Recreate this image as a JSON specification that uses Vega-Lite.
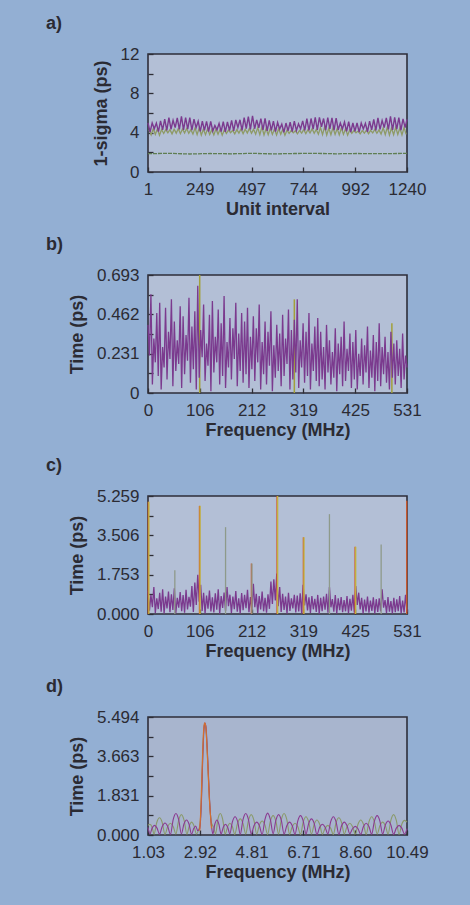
{
"$schema": "https://vega.github.io/schema/vega-lite/v6.json",
"background": "#93afd3",
"padding": {"left": 45, "top": 14, "right": 45, "bottom": 30},
"spacing": 16,
"config": {
  "font": "Liberation Sans",
  "view": {"fill": "#b3bfd6", "stroke": "#2e2e3a", "strokeWidth": 1.6},
  "axis": {"grid": false, "domain": false, "tickColor": "#2e2e36", "tickSize": -5, "tickWidth": 1.3, "labelFont": "Liberation Sans", "labelFontSize": 17, "labelColor": "#2b2b33", "titleFont": "Liberation Sans", "titleFontSize": 18, "titleFontWeight": "bold", "titleColor": "#2b2b33", "labelFlush": false, "labelOverlap": false},
  "axisX": {"labelPadding": 14, "titlePadding": 3},
  "axisY": {"labelPadding": 14, "titlePadding": 10},
  "title": {"anchor": "start", "frame": "group", "dx": -102, "offset": 12, "fontSize": 18, "fontWeight": "bold", "color": "#2b2b33", "font": "Liberation Sans"}
},
"datasets": {
"a_p": [{"x":1,"y":5.00},{"x":11,"y":4.07},{"x":21,"y":4.99},{"x":31,"y":4.39},{"x":41,"y":4.97},{"x":51,"y":4.10},{"x":61,"y":5.20},{"x":71,"y":4.29},{"x":81,"y":5.37},{"x":91,"y":4.24},
{"x":101,"y":5.54},{"x":111,"y":4.35},{"x":121,"y":5.25},{"x":131,"y":4.51},{"x":141,"y":5.51},{"x":151,"y":4.34},{"x":161,"y":5.66},{"x":171,"y":4.29},{"x":181,"y":5.54},{"x":191,"y":4.36},
{"x":201,"y":5.52},{"x":211,"y":4.25},{"x":221,"y":5.37},{"x":231,"y":4.51},{"x":241,"y":5.17},{"x":251,"y":4.13},{"x":261,"y":5.18},{"x":271,"y":4.24},{"x":281,"y":5.15},{"x":291,"y":4.12},
{"x":301,"y":5.14},{"x":311,"y":4.17},{"x":321,"y":4.73},{"x":331,"y":4.29},{"x":341,"y":4.94},{"x":351,"y":4.11},{"x":361,"y":5.12},{"x":371,"y":4.09},{"x":381,"y":5.10},{"x":391,"y":4.22},
{"x":401,"y":5.24},{"x":411,"y":4.18},{"x":421,"y":5.30},{"x":431,"y":4.52},{"x":441,"y":5.31},{"x":451,"y":4.23},{"x":461,"y":5.52},{"x":471,"y":4.41},{"x":481,"y":5.63},{"x":491,"y":4.33},
{"x":501,"y":5.70},{"x":511,"y":4.40},{"x":521,"y":5.29},{"x":531,"y":4.50},{"x":541,"y":5.43},{"x":551,"y":4.28},{"x":561,"y":5.46},{"x":571,"y":4.19},{"x":581,"y":5.25},{"x":591,"y":4.23},
{"x":601,"y":5.18},{"x":611,"y":4.11},{"x":621,"y":5.04},{"x":631,"y":4.38},{"x":641,"y":4.87},{"x":651,"y":4.03},{"x":661,"y":4.98},{"x":671,"y":4.18},{"x":681,"y":5.06},{"x":691,"y":4.11},
{"x":701,"y":5.18},{"x":711,"y":4.21},{"x":721,"y":4.89},{"x":731,"y":4.38},{"x":741,"y":5.20},{"x":751,"y":4.23},{"x":761,"y":5.44},{"x":771,"y":4.22},{"x":781,"y":5.44},{"x":791,"y":4.35},
{"x":801,"y":5.56},{"x":811,"y":4.29},{"x":821,"y":5.55},{"x":831,"y":4.60},{"x":841,"y":5.44},{"x":851,"y":4.26},{"x":861,"y":5.53},{"x":871,"y":4.39},{"x":881,"y":5.51},{"x":891,"y":4.26},
{"x":901,"y":5.47},{"x":911,"y":4.29},{"x":921,"y":4.99},{"x":931,"y":4.37},{"x":941,"y":5.08},{"x":951,"y":4.14},{"x":961,"y":5.13},{"x":971,"y":4.06},{"x":981,"y":4.98},{"x":991,"y":4.14},
{"x":1001,"y":5.00},{"x":1011,"y":4.06},{"x":1021,"y":4.98},{"x":1031,"y":4.38},{"x":1041,"y":4.94},{"x":1051,"y":4.09},{"x":1061,"y":5.17},{"x":1071,"y":4.28},{"x":1081,"y":5.34},{"x":1091,"y":4.23},
{"x":1101,"y":5.51},{"x":1111,"y":4.34},{"x":1121,"y":5.23},{"x":1131,"y":4.51},{"x":1141,"y":5.50},{"x":1151,"y":4.34},{"x":1161,"y":5.66},{"x":1171,"y":4.29},{"x":1181,"y":5.55},{"x":1191,"y":4.37},
{"x":1201,"y":5.53},{"x":1211,"y":4.26},{"x":1221,"y":5.40},{"x":1231,"y":4.52},{"x":1240,"y":5.35}],
"a_g": [{"x":6,"y":4.30},{"x":16,"y":3.77},{"x":26,"y":4.38},{"x":36,"y":3.83},{"x":46,"y":4.38},{"x":56,"y":3.74},{"x":66,"y":4.32},{"x":76,"y":3.92},{"x":86,"y":4.31},{"x":96,"y":3.99},
{"x":106,"y":4.31},{"x":116,"y":3.88},{"x":126,"y":4.36},{"x":136,"y":3.95},{"x":146,"y":4.41},{"x":156,"y":3.90},{"x":166,"y":4.37},{"x":176,"y":3.97},{"x":186,"y":4.42},{"x":196,"y":3.94},
{"x":206,"y":4.31},{"x":216,"y":3.85},{"x":226,"y":4.46},{"x":236,"y":3.80},{"x":246,"y":4.50},{"x":256,"y":3.76},{"x":266,"y":4.35},{"x":276,"y":3.79},{"x":286,"y":4.39},{"x":296,"y":3.82},
{"x":306,"y":4.31},{"x":316,"y":3.77},{"x":326,"y":4.37},{"x":336,"y":3.83},{"x":346,"y":4.34},{"x":356,"y":3.74},{"x":366,"y":4.27},{"x":376,"y":3.92},{"x":386,"y":4.25},{"x":396,"y":3.99},
{"x":406,"y":4.24},{"x":416,"y":3.88},{"x":426,"y":4.31},{"x":436,"y":3.95},{"x":446,"y":4.37},{"x":456,"y":3.90},{"x":466,"y":4.35},{"x":476,"y":3.97},{"x":486,"y":4.43},{"x":496,"y":3.94},
{"x":506,"y":4.34},{"x":516,"y":3.85},{"x":526,"y":4.51},{"x":536,"y":3.80},{"x":546,"y":4.56},{"x":556,"y":3.76},{"x":566,"y":4.41},{"x":576,"y":3.79},{"x":586,"y":4.45},{"x":596,"y":3.82},
{"x":606,"y":4.36},{"x":616,"y":3.77},{"x":626,"y":4.40},{"x":636,"y":3.83},{"x":646,"y":4.35},{"x":656,"y":3.74},{"x":666,"y":4.25},{"x":676,"y":3.92},{"x":686,"y":4.21},{"x":696,"y":3.99},
{"x":706,"y":4.19},{"x":716,"y":3.88},{"x":726,"y":4.24},{"x":736,"y":3.95},{"x":746,"y":4.31},{"x":756,"y":3.90},{"x":766,"y":4.30},{"x":776,"y":3.97},{"x":786,"y":4.39},{"x":796,"y":3.94},
{"x":806,"y":4.33},{"x":816,"y":3.85},{"x":826,"y":4.52},{"x":836,"y":3.80},{"x":846,"y":4.59},{"x":856,"y":3.76},{"x":866,"y":4.46},{"x":876,"y":3.79},{"x":886,"y":4.51},{"x":896,"y":3.82},
{"x":906,"y":4.42},{"x":916,"y":3.77},{"x":926,"y":4.46},{"x":936,"y":3.83},{"x":946,"y":4.39},{"x":956,"y":3.74},{"x":966,"y":4.27},{"x":976,"y":3.92},{"x":986,"y":4.21},{"x":996,"y":3.99},
{"x":1006,"y":4.16},{"x":1016,"y":3.88},{"x":1026,"y":4.20},{"x":1036,"y":3.95},{"x":1046,"y":4.25},{"x":1056,"y":3.90},{"x":1066,"y":4.23},{"x":1076,"y":3.97},{"x":1086,"y":4.33},{"x":1096,"y":3.94},
{"x":1106,"y":4.28},{"x":1116,"y":3.85},{"x":1126,"y":4.49},{"x":1136,"y":3.80},{"x":1146,"y":4.58},{"x":1156,"y":3.76},{"x":1166,"y":4.48},{"x":1176,"y":3.79},{"x":1186,"y":4.55},{"x":1196,"y":3.82},
{"x":1206,"y":4.48},{"x":1216,"y":3.77},{"x":1226,"y":4.52},{"x":1236,"y":3.83}],
"a_f": [{"x":1,"y":1.86},{"x":100,"y":1.9},{"x":200,"y":1.83},{"x":300,"y":1.88},{"x":400,"y":1.85},{"x":500,"y":1.9},{"x":600,"y":1.84},{"x":700,"y":1.88},{"x":800,"y":1.9},{"x":900,"y":1.85},{"x":1000,"y":1.88},{"x":1100,"y":1.86},{"x":1240,"y":1.89}],
"b_p": [{"x":0,"y":0.40},{"x":3,"y":0.22},{"x":6,"y":0.58},{"x":9,"y":0.05},{"x":12,"y":0.32},{"x":15,"y":0.18},{"x":18,"y":0.47},{"x":21,"y":0.10},{"x":24,"y":0.53},{"x":27,"y":0.02},
{"x":30,"y":0.27},{"x":33,"y":0.15},{"x":36,"y":0.50},{"x":39,"y":0.08},{"x":42,"y":0.36},{"x":45,"y":0.20},{"x":48,"y":0.55},{"x":51,"y":0.04},{"x":54,"y":0.42},{"x":57,"y":0.13},
{"x":60,"y":0.31},{"x":63,"y":0.17},{"x":66,"y":0.51},{"x":69,"y":0.03},{"x":72,"y":0.45},{"x":75,"y":0.11},{"x":78,"y":0.34},{"x":81,"y":0.19},{"x":84,"y":0.56},{"x":87,"y":0.06},
{"x":90,"y":0.39},{"x":93,"y":0.14},{"x":96,"y":0.48},{"x":99,"y":0.02},{"x":102,"y":0.63},{"x":105,"y":0.09},{"x":108,"y":0.37},{"x":111,"y":0.21},{"x":114,"y":0.52},{"x":117,"y":0.07},
{"x":120,"y":0.29},{"x":123,"y":0.16},{"x":126,"y":0.46},{"x":129,"y":0.01},{"x":132,"y":0.54},{"x":135,"y":0.12},{"x":138,"y":0.33},{"x":141,"y":0.18},{"x":144,"y":0.49},{"x":147,"y":0.05},
{"x":150,"y":0.41},{"x":153,"y":0.10},{"x":156,"y":0.57},{"x":159,"y":0.03},{"x":162,"y":0.30},{"x":165,"y":0.15},{"x":168,"y":0.44},{"x":171,"y":0.08},{"x":174,"y":0.38},{"x":177,"y":0.20},
{"x":180,"y":0.53},{"x":183,"y":0.04},{"x":186,"y":0.35},{"x":189,"y":0.13},{"x":192,"y":0.47},{"x":195,"y":0.06},{"x":198,"y":0.42},{"x":201,"y":0.11},{"x":204,"y":0.50},{"x":207,"y":0.03},
{"x":210,"y":0.33},{"x":213,"y":0.14},{"x":216,"y":0.45},{"x":219,"y":0.07},{"x":222,"y":0.38},{"x":225,"y":0.18},{"x":228,"y":0.52},{"x":231,"y":0.02},{"x":234,"y":0.30},{"x":237,"y":0.11},
{"x":240,"y":0.42},{"x":243,"y":0.05},{"x":246,"y":0.36},{"x":249,"y":0.16},{"x":252,"y":0.48},{"x":255,"y":0.01},{"x":258,"y":0.28},{"x":261,"y":0.09},{"x":264,"y":0.40},{"x":267,"y":0.13},
{"x":270,"y":0.35},{"x":273,"y":0.04},{"x":276,"y":0.46},{"x":279,"y":0.10},{"x":282,"y":0.32},{"x":285,"y":0.17},{"x":288,"y":0.49},{"x":291,"y":0.02},{"x":294,"y":0.37},{"x":297,"y":0.08},
{"x":300,"y":0.43},{"x":303,"y":0.12},{"x":306,"y":0.55},{"x":309,"y":0.03},{"x":312,"y":0.31},{"x":315,"y":0.15},{"x":318,"y":0.41},{"x":321,"y":0.06},{"x":324,"y":0.36},{"x":327,"y":0.10},
{"x":330,"y":0.47},{"x":333,"y":0.02},{"x":336,"y":0.29},{"x":339,"y":0.13},{"x":342,"y":0.39},{"x":345,"y":0.07},{"x":348,"y":0.44},{"x":351,"y":0.04},{"x":354,"y":0.36},{"x":357,"y":0.08},
{"x":360,"y":0.27},{"x":363,"y":0.02},{"x":366,"y":0.40},{"x":369,"y":0.12},{"x":372,"y":0.31},{"x":375,"y":0.05},{"x":378,"y":0.24},{"x":381,"y":0.09},{"x":384,"y":0.38},{"x":387,"y":0.01},
{"x":390,"y":0.29},{"x":393,"y":0.11},{"x":396,"y":0.33},{"x":399,"y":0.04},{"x":402,"y":0.42},{"x":405,"y":0.07},{"x":408,"y":0.26},{"x":411,"y":0.13},{"x":414,"y":0.35},{"x":417,"y":0.03},
{"x":420,"y":0.30},{"x":423,"y":0.08},{"x":426,"y":0.37},{"x":429,"y":0.02},{"x":432,"y":0.23},{"x":435,"y":0.10},{"x":438,"y":0.32},{"x":441,"y":0.05},{"x":444,"y":0.28},{"x":447,"y":0.12},
{"x":450,"y":0.39},{"x":453,"y":0.03},{"x":456,"y":0.25},{"x":459,"y":0.09},{"x":462,"y":0.34},{"x":465,"y":0.01},{"x":468,"y":0.30},{"x":471,"y":0.07},{"x":474,"y":0.41},{"x":477,"y":0.04},
{"x":480,"y":0.27},{"x":483,"y":0.11},{"x":486,"y":0.33},{"x":489,"y":0.06},{"x":492,"y":0.24},{"x":495,"y":0.02},{"x":498,"y":0.36},{"x":501,"y":0.09},{"x":504,"y":0.29},{"x":507,"y":0.05},
{"x":510,"y":0.31},{"x":513,"y":0.10},{"x":516,"y":0.26},{"x":519,"y":0.03},{"x":522,"y":0.35},{"x":525,"y":0.08},{"x":528,"y":0.22},{"x":531,"y":0.15}],
"b_s": [{"x":106,"y":0.693},{"x":300,"y":0.55},{"x":500,"y":0.41}],
"c_p": [{"x":0,"y":1.05},{"x":3,"y":0.15},{"x":6,"y":0.85},{"x":9,"y":0.30},{"x":12,"y":1.20},{"x":15,"y":0.05},{"x":18,"y":0.70},{"x":21,"y":0.22},{"x":24,"y":0.95},{"x":27,"y":0.10},
{"x":30,"y":1.10},{"x":33,"y":0.02},{"x":36,"y":0.78},{"x":39,"y":0.25},{"x":42,"y":1.00},{"x":45,"y":0.08},{"x":48,"y":0.88},{"x":51,"y":0.18},{"x":54,"y":1.15},{"x":57,"y":0.04},
{"x":60,"y":0.72},{"x":63,"y":0.28},{"x":66,"y":0.98},{"x":69,"y":0.12},{"x":72,"y":0.84},{"x":75,"y":0.06},{"x":78,"y":1.08},{"x":81,"y":0.20},{"x":84,"y":0.76},{"x":87,"y":0.33},
{"x":90,"y":1.25},{"x":93,"y":0.09},{"x":96,"y":1.40},{"x":99,"y":0.40},{"x":102,"y":1.75},{"x":105,"y":0.55},{"x":108,"y":1.30},{"x":111,"y":0.14},{"x":114,"y":0.95},{"x":117,"y":0.03},
{"x":120,"y":0.82},{"x":123,"y":0.24},{"x":126,"y":1.05},{"x":129,"y":0.11},{"x":132,"y":0.74},{"x":135,"y":0.07},{"x":138,"y":0.92},{"x":141,"y":0.19},{"x":144,"y":1.10},{"x":147,"y":0.01},
{"x":150,"y":0.80},{"x":153,"y":0.27},{"x":156,"y":0.96},{"x":159,"y":0.13},{"x":162,"y":1.20},{"x":165,"y":0.35},{"x":168,"y":0.86},{"x":171,"y":0.05},{"x":174,"y":0.78},{"x":177,"y":0.21},
{"x":180,"y":1.02},{"x":183,"y":0.10},{"x":186,"y":0.70},{"x":189,"y":0.02},{"x":192,"y":0.93},{"x":195,"y":0.17},{"x":198,"y":0.85},{"x":201,"y":0.26},{"x":204,"y":1.08},{"x":207,"y":0.08},
{"x":210,"y":0.76},{"x":213,"y":0.15},{"x":216,"y":1.35},{"x":219,"y":0.30},{"x":222,"y":0.90},{"x":225,"y":0.04},{"x":228,"y":0.80},{"x":231,"y":0.20},{"x":234,"y":1.00},{"x":237,"y":0.12},
{"x":240,"y":0.72},{"x":243,"y":0.06},{"x":246,"y":0.88},{"x":249,"y":0.23},{"x":252,"y":1.45},{"x":255,"y":0.45},{"x":258,"y":1.55},{"x":261,"y":0.60},{"x":264,"y":1.80},{"x":267,"y":0.35},
{"x":270,"y":1.20},{"x":273,"y":0.09},{"x":276,"y":0.90},{"x":279,"y":0.18},{"x":282,"y":0.78},{"x":285,"y":0.02},{"x":288,"y":0.95},{"x":291,"y":0.14},{"x":294,"y":0.70},{"x":297,"y":0.25},
{"x":300,"y":0.86},{"x":303,"y":0.07},{"x":306,"y":0.82},{"x":309,"y":0.11},{"x":312,"y":0.92},{"x":315,"y":0.03},{"x":318,"y":1.30},{"x":321,"y":0.38},{"x":324,"y":0.88},{"x":327,"y":0.16},
{"x":330,"y":0.74},{"x":333,"y":0.05},{"x":336,"y":0.80},{"x":339,"y":0.21},{"x":342,"y":0.68},{"x":345,"y":0.09},{"x":348,"y":0.85},{"x":351,"y":0.01},{"x":354,"y":0.72},{"x":357,"y":0.13},
{"x":360,"y":0.78},{"x":363,"y":0.19},{"x":366,"y":0.90},{"x":369,"y":0.06},{"x":372,"y":1.20},{"x":375,"y":0.30},{"x":378,"y":0.66},{"x":381,"y":0.10},{"x":384,"y":0.84},{"x":387,"y":0.02},
{"x":390,"y":0.70},{"x":393,"y":0.17},{"x":396,"y":0.76},{"x":399,"y":0.08},{"x":402,"y":0.62},{"x":405,"y":0.12},{"x":408,"y":0.80},{"x":411,"y":0.04},{"x":414,"y":0.68},{"x":417,"y":0.15},
{"x":420,"y":0.85},{"x":423,"y":0.07},{"x":426,"y":1.25},{"x":429,"y":0.40},{"x":432,"y":0.95},{"x":435,"y":0.20},{"x":438,"y":0.72},{"x":441,"y":0.03},{"x":444,"y":0.64},{"x":447,"y":0.11},
{"x":450,"y":0.78},{"x":453,"y":0.06},{"x":456,"y":0.60},{"x":459,"y":0.14},{"x":462,"y":0.74},{"x":465,"y":0.02},{"x":468,"y":0.66},{"x":471,"y":0.09},{"x":474,"y":0.70},{"x":477,"y":0.12},
{"x":480,"y":1.10},{"x":483,"y":0.28},{"x":486,"y":0.62},{"x":489,"y":0.05},{"x":492,"y":0.76},{"x":495,"y":0.10},{"x":498,"y":0.58},{"x":501,"y":0.03},{"x":504,"y":0.72},{"x":507,"y":0.08},
{"x":510,"y":0.65},{"x":513,"y":0.13},{"x":516,"y":0.80},{"x":519,"y":0.02},{"x":522,"y":0.60},{"x":525,"y":0.07},{"x":528,"y":0.85},{"x":531,"y":0.10}],
"c_s": [{"x":0.5,"y":5.0,"c":"r"},{"x":1.8,"y":5.0,"c":"y"},{"x":55,"y":1.95,"c":"g"},{"x":105.5,"y":4.82,"c":"r"},{"x":106.8,"y":4.82,"c":"y"},{"x":159,"y":3.87,"c":"g"},{"x":212,"y":2.25,"c":"r"},{"x":213.2,"y":2.25,"c":"g"},{"x":264.5,"y":5.259,"c":"r"},{"x":265.8,"y":5.259,"c":"y"},{"x":318.5,"y":3.42,"c":"r"},{"x":319.8,"y":3.42,"c":"y"},{"x":372,"y":4.45,"c":"g"},{"x":424.5,"y":3.0,"c":"r"},{"x":425.8,"y":3.0,"c":"y"},{"x":478,"y":3.1,"c":"g"},{"x":530.4,"y":5.05,"c":"r"}],
"d_p": [{"x":1.03,"y":0.35},{"x":1.10,"y":0.05},{"x":1.18,"y":0.32},{"x":1.27,"y":0.45},{"x":1.36,"y":0.32},{"x":1.45,"y":0.04},{"x":1.55,"y":0.40},{"x":1.65,"y":0.56},{"x":1.75,"y":0.40},{"x":1.85,"y":0.03},
{"x":1.95,"y":0.72},{"x":2.05,"y":1.00},{"x":2.15,"y":0.72},{"x":2.25,"y":0.05},{"x":2.34,"y":0.50},{"x":2.44,"y":0.70},{"x":2.53,"y":0.50},{"x":2.62,"y":0.04},{"x":2.70,"y":0.30},{"x":2.77,"y":0.42},
{"x":2.85,"y":0.20},{"x":2.92,"y":0.30},{"x":2.98,"y":1.5},{"x":3.03,"y":3.6},{"x":3.08,"y":5.0},{"x":3.11,"y":5.21},{"x":3.15,"y":5.0},{"x":3.21,"y":3.6},{"x":3.28,"y":1.6},{"x":3.36,"y":0.3},
{"x":3.40,"y":0.05},{"x":3.47,"y":0.50},{"x":3.55,"y":0.70},{"x":3.62,"y":0.50},{"x":3.70,"y":0.04},{"x":3.78,"y":0.36},{"x":3.86,"y":0.50},{"x":3.94,"y":0.36},{"x":4.02,"y":0.06},{"x":4.11,"y":0.60},
{"x":4.21,"y":0.85},{"x":4.31,"y":0.60},{"x":4.40,"y":0.03},{"x":4.50,"y":0.72},{"x":4.60,"y":1.00},{"x":4.70,"y":0.72},{"x":4.80,"y":0.05},{"x":4.90,"y":0.43},{"x":5.00,"y":0.60},{"x":5.10,"y":0.43},
{"x":5.20,"y":0.02},{"x":5.30,"y":0.72},{"x":5.40,"y":1.02},{"x":5.50,"y":0.72},{"x":5.60,"y":0.06},{"x":5.70,"y":0.68},{"x":5.80,"y":0.95},{"x":5.90,"y":0.68},{"x":6.00,"y":0.04},{"x":6.10,"y":0.43},
{"x":6.20,"y":0.60},{"x":6.30,"y":0.43},{"x":6.40,"y":0.03},{"x":6.50,"y":0.65},{"x":6.60,"y":0.90},{"x":6.70,"y":0.65},{"x":6.80,"y":0.05},{"x":6.90,"y":0.54},{"x":7.00,"y":0.75},{"x":7.10,"y":0.54},
{"x":7.20,"y":0.02},{"x":7.30,"y":0.36},{"x":7.40,"y":0.50},{"x":7.50,"y":0.36},{"x":7.60,"y":0.05},{"x":7.70,"y":0.61},{"x":7.80,"y":0.85},{"x":7.90,"y":0.61},{"x":8.00,"y":0.03},{"x":8.10,"y":0.43},
{"x":8.20,"y":0.60},{"x":8.30,"y":0.43},{"x":8.40,"y":0.06},{"x":8.50,"y":0.29},{"x":8.60,"y":0.40},{"x":8.70,"y":0.29},{"x":8.80,"y":0.03},{"x":8.90,"y":0.40},{"x":9.00,"y":0.55},{"x":9.10,"y":0.40},
{"x":9.20,"y":0.04},{"x":9.30,"y":0.65},{"x":9.40,"y":0.90},{"x":9.50,"y":0.65},{"x":9.60,"y":0.05},{"x":9.70,"y":0.47},{"x":9.80,"y":0.65},{"x":9.90,"y":0.47},{"x":10.00,"y":0.03},{"x":10.10,"y":0.32},
{"x":10.20,"y":0.45},{"x":10.30,"y":0.32},{"x":10.40,"y":0.04},{"x":10.49,"y":0.30}],
"d_g": [{"x":1.03,"y":0.45},{"x":1.10,"y":0.50},{"x":1.18,"y":0.36},{"x":1.25,"y":0.04},{"x":1.35,"y":0.58},{"x":1.45,"y":0.80},{"x":1.55,"y":0.58},{"x":1.65,"y":0.03},{"x":1.75,"y":0.40},{"x":1.85,"y":0.55},
{"x":1.95,"y":0.40},{"x":2.05,"y":0.05},{"x":2.15,"y":0.68},{"x":2.25,"y":0.95},{"x":2.35,"y":0.68},{"x":2.45,"y":0.04},{"x":2.54,"y":0.43},{"x":2.62,"y":0.60},{"x":2.71,"y":0.43},{"x":2.80,"y":0.05},
{"x":2.88,"y":0.25},{"x":2.93,"y":0.5},{"x":2.99,"y":2.0},{"x":3.04,"y":4.2},{"x":3.09,"y":5.15},{"x":3.13,"y":5.1},{"x":3.19,"y":4.0},{"x":3.26,"y":2.0},{"x":3.34,"y":0.6},{"x":3.43,"y":0.35},
{"x":3.50,"y":0.05},{"x":3.58,"y":0.72},{"x":3.67,"y":1.00},{"x":3.76,"y":0.72},{"x":3.85,"y":0.04},{"x":3.94,"y":0.40},{"x":4.02,"y":0.55},{"x":4.11,"y":0.40},{"x":4.20,"y":0.03},{"x":4.30,"y":0.54},
{"x":4.40,"y":0.75},{"x":4.50,"y":0.54},{"x":4.60,"y":0.05},{"x":4.70,"y":0.68},{"x":4.80,"y":0.95},{"x":4.90,"y":0.68},{"x":5.00,"y":0.04},{"x":5.10,"y":0.47},{"x":5.20,"y":0.65},{"x":5.30,"y":0.47},
{"x":5.40,"y":0.03},{"x":5.50,"y":0.65},{"x":5.60,"y":0.90},{"x":5.70,"y":0.65},{"x":5.80,"y":0.05},{"x":5.90,"y":0.72},{"x":6.00,"y":1.00},{"x":6.10,"y":0.72},{"x":6.20,"y":0.04},{"x":6.30,"y":0.40},
{"x":6.40,"y":0.55},{"x":6.50,"y":0.40},{"x":6.60,"y":0.03},{"x":6.70,"y":0.61},{"x":6.80,"y":0.85},{"x":6.90,"y":0.61},{"x":7.00,"y":0.05},{"x":7.10,"y":0.50},{"x":7.20,"y":0.70},{"x":7.30,"y":0.50},
{"x":7.40,"y":0.04},{"x":7.50,"y":0.32},{"x":7.60,"y":0.45},{"x":7.70,"y":0.32},{"x":7.80,"y":0.03},{"x":7.90,"y":0.58},{"x":8.00,"y":0.80},{"x":8.10,"y":0.58},{"x":8.20,"y":0.05},{"x":8.30,"y":0.40},
{"x":8.40,"y":0.55},{"x":8.50,"y":0.40},{"x":8.60,"y":0.04},{"x":8.70,"y":0.50},{"x":8.80,"y":0.70},{"x":8.90,"y":0.50},{"x":9.00,"y":0.03},{"x":9.10,"y":0.61},{"x":9.20,"y":0.85},{"x":9.30,"y":0.61},
{"x":9.40,"y":0.05},{"x":9.50,"y":0.43},{"x":9.60,"y":0.60},{"x":9.70,"y":0.43},{"x":9.80,"y":0.04},{"x":9.90,"y":0.68},{"x":10.00,"y":0.95},{"x":10.10,"y":0.68},{"x":10.20,"y":0.03},{"x":10.30,"y":0.50},
{"x":10.40,"y":0.68},{"x":10.49,"y":0.60}],
"d_o": [{"x":2.92,"y":0.2},{"x":2.97,"y":1.5},{"x":3.02,"y":3.6},{"x":3.07,"y":5.0},{"x":3.10,"y":5.22},{"x":3.14,"y":5.05},{"x":3.20,"y":3.7},{"x":3.27,"y":1.7},{"x":3.35,"y":0.3}]
},
"vconcat": [
{
  "title": "a)",
  "width": 259, "height": 118,
  "encoding": {
    "x": {"field": "x", "type": "quantitative", "scale": {"domain": [1, 1240], "nice": false, "zero": false},
          "axis": {"title": "Unit interval", "values": [1, 248.8, 496.6, 744.4, 992.2, 1240], "format": ".0f"}},
    "y": {"field": "y", "type": "quantitative", "scale": {"domain": [0, 12], "nice": false},
          "axis": {"title": "1-sigma (ps)", "values": [0, 2, 4, 6, 8, 10, 12], "labelExpr": "datum.value % 4 === 0 ? datum.label : ''"}}
  },
  "layer": [
    {"data": {"name": "a_g"}, "mark": {"type": "line", "color": "#8e9a66", "strokeWidth": 1.3}},
    {"data": {"name": "a_p"}, "mark": {"type": "line", "color": "#7b3a8e", "strokeWidth": 1.4}},
    {"data": {"name": "a_f"}, "mark": {"type": "line", "color": "#5f7e52", "strokeWidth": 1.3, "strokeDash": [4, 1]}}
  ]
},
{
  "title": "b)",
  "width": 259, "height": 118,
  "encoding": {
    "x": {"field": "x", "type": "quantitative", "scale": {"domain": [0, 531], "nice": false, "zero": false},
          "axis": {"title": "Frequency (MHz)", "values": [0, 106.2, 212.4, 318.6, 424.8, 531], "format": ".0f"}},
    "y": {"field": "y", "type": "quantitative", "scale": {"domain": [0, 0.693], "nice": false},
          "axis": {"title": "Time (ps)", "values": [0, 0.1155, 0.231, 0.3465, 0.462, 0.5775, 0.693], "labelExpr": "round(datum.value / 0.1155) % 2 === 0 ? (datum.value === 0 ? '0' : format(datum.value, '.3f')) : ''"}}
  },
  "layer": [
    {"data": {"name": "b_s"}, "mark": {"type": "rule", "color": "#a3a03a", "strokeWidth": 1.5}, "encoding": {"y2": {"datum": 0}}},
    {"data": {"name": "b_p"}, "mark": {"type": "line", "color": "#7b3a8e", "strokeWidth": 1.3}}
  ]
},
{
  "title": "c)",
  "width": 259, "height": 118,
  "encoding": {
    "x": {"field": "x", "type": "quantitative", "scale": {"domain": [0, 531], "nice": false, "zero": false},
          "axis": {"title": "Frequency (MHz)", "values": [0, 106.2, 212.4, 318.6, 424.8, 531], "format": ".0f"}},
    "y": {"field": "y", "type": "quantitative", "scale": {"domain": [0, 5.259], "nice": false},
          "axis": {"title": "Time (ps)", "values": [0, 0.8765, 1.753, 2.6295, 3.506, 4.3825, 5.259], "labelExpr": "round(datum.value / 0.8765) % 2 === 0 ? format(datum.value, '.3f') : ''"}}
  },
  "layer": [
    {"data": {"name": "c_p"}, "mark": {"type": "line", "color": "#7b3a8e", "strokeWidth": 1.3}},
    {"data": {"name": "c_s"}, "mark": {"type": "rule", "strokeWidth": 1.3},
     "encoding": {"y2": {"datum": 0}, "color": {"field": "c", "type": "nominal", "scale": {"domain": ["r", "y", "g"], "range": ["#cf5a2e", "#c2b23c", "#8e9a8a"]}, "legend": null}}}
  ]
},
{
  "title": "d)",
  "width": 259, "height": 118,
  "view": {"fill": "#a8b5ce"},
  "encoding": {
    "x": {"field": "x", "type": "quantitative", "scale": {"domain": [1.03, 10.49], "nice": false, "zero": false},
          "axis": {"title": "Frequency (MHz)", "values": [1.03, 2.922, 4.814, 6.706, 8.598, 10.49], "format": ".2f"}},
    "y": {"field": "y", "type": "quantitative", "scale": {"domain": [0, 5.494], "nice": false},
          "axis": {"title": "Time (ps)", "values": [0, 0.91567, 1.83133, 2.747, 3.66267, 4.57833, 5.494], "labelExpr": "round(datum.value / 0.91567) % 2 === 0 ? format(datum.value, '.3f') : ''"}}
  },
  "layer": [
    {"data": {"name": "d_g"}, "mark": {"type": "line", "color": "#8a9a6a", "strokeWidth": 1.1, "interpolate": "monotone"}},
    {"data": {"name": "d_p"}, "mark": {"type": "line", "color": "#8a3a90", "strokeWidth": 1.1, "interpolate": "monotone"}},
    {"data": {"name": "d_o"}, "mark": {"type": "line", "color": "#d2702e", "strokeWidth": 1.2, "interpolate": "monotone"}}
  ]
}
]
}
